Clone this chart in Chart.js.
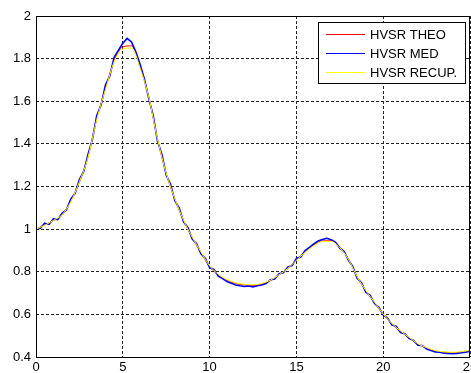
<!DOCTYPE html>
<html>
<head>
<meta charset="utf-8">
<script src="https://cdn.jsdelivr.net/npm/chart.js@4.4.1/dist/chart.umd.min.js"></script>
<style>
  html, body { margin: 0; padding: 0; background: #fff; }
  canvas { display: block; }
</style>
</head>
<body>
<canvas id="chart" width="471" height="373"></canvas>
<script>
// HVSR curves
const theoX = [0, 0.5, 1, 1.5, 2, 2.5, 3, 3.5, 4, 4.5, 5, 5.5, 6, 6.5, 7, 7.5, 8, 8.5, 9, 9.5,
  10, 10.5, 11, 11.5, 12, 12.5, 13, 13.5, 14, 14.5, 15, 15.5, 16, 16.5, 17, 17.5, 18, 18.5, 19, 19.5,
  20, 20.5, 21, 21.5, 22, 22.5, 23, 23.5, 24, 24.5, 25];
const theoY = [1.000, 1.020, 1.040, 1.065, 1.130, 1.220, 1.340, 1.520, 1.660, 1.790,
  1.855, 1.860, 1.760, 1.620, 1.420, 1.260, 1.140, 1.040, 0.960, 0.890,
  0.825, 0.785, 0.760, 0.745, 0.738, 0.736, 0.742, 0.758, 0.785, 0.815,
  0.855, 0.893, 0.925, 0.945, 0.945, 0.915, 0.860, 0.775, 0.710, 0.655,
  0.600, 0.555, 0.520, 0.490, 0.460, 0.442, 0.428, 0.422, 0.420, 0.423, 0.430];
const recupY = [1.000, 1.018, 1.041, 1.067, 1.128, 1.222, 1.338, 1.515, 1.655, 1.785,
  1.845, 1.850, 1.755, 1.618, 1.422, 1.262, 1.142, 1.042, 0.962, 0.893,
  0.828, 0.788, 0.763, 0.748, 0.741, 0.739, 0.745, 0.760, 0.786, 0.815,
  0.854, 0.891, 0.922, 0.942, 0.942, 0.913, 0.858, 0.776, 0.712, 0.657,
  0.602, 0.557, 0.522, 0.492, 0.462, 0.444, 0.430, 0.424, 0.422, 0.425, 0.431];
const medX = [0, 0.25, 0.5, 0.75, 1, 1.25, 1.5, 1.75, 2, 2.25, 2.5, 2.75, 3, 3.25, 3.5, 3.75,
  4, 4.25, 4.5, 4.75, 5, 5.25, 5.5, 5.75, 6, 6.25, 6.5, 6.75, 7, 7.25, 7.5, 7.75,
  8, 8.25, 8.5, 8.75, 9, 9.25, 9.5, 9.75, 10, 10.25, 10.5, 10.75, 11, 11.25, 11.5, 11.75,
  12, 12.25, 12.5, 12.75, 13, 13.25, 13.5, 13.75, 14, 14.25, 14.5, 14.75, 15, 15.25, 15.5, 15.75,
  16, 16.25, 16.5, 16.75, 17, 17.25, 17.5, 17.75, 18, 18.25, 18.5, 18.75, 19, 19.25, 19.5, 19.75,
  20, 20.25, 20.5, 20.75, 21, 21.25, 21.5, 21.75, 22, 22.25, 22.5, 22.75, 23, 23.25, 23.5, 23.75,
  24, 24.25, 24.5, 24.75, 25];
const medY = [1.000, 1.004, 1.028, 1.022, 1.048, 1.045, 1.074, 1.090, 1.141, 1.168, 1.232, 1.271,
  1.352, 1.421, 1.533, 1.582, 1.676, 1.718, 1.806, 1.840, 1.872, 1.895, 1.878, 1.832,
  1.772, 1.702, 1.611, 1.534, 1.412, 1.352, 1.254, 1.211, 1.133, 1.099, 1.034, 1.008,
  0.953, 0.932, 0.884, 0.864, 0.819, 0.811, 0.779, 0.768, 0.754, 0.746, 0.738, 0.734,
  0.731, 0.733, 0.729, 0.734, 0.738, 0.745, 0.763, 0.766, 0.791, 0.795, 0.822, 0.829,
  0.862, 0.869, 0.899, 0.914, 0.931, 0.944, 0.951, 0.957, 0.950, 0.939, 0.911, 0.895,
  0.854, 0.824, 0.769, 0.749, 0.704, 0.689, 0.651, 0.633, 0.597, 0.583, 0.551, 0.543,
  0.515, 0.509, 0.486, 0.478, 0.455, 0.454, 0.437, 0.431, 0.424, 0.422, 0.418, 0.417,
  0.416, 0.417, 0.420, 0.423, 0.427];

const xTicks = [0, 5, 10, 15, 20, 25];
const yTicks = [0.4, 0.6, 0.8, 1, 1.2, 1.4, 1.6, 1.8, 2];

const pts = (xs, ys) => xs.map((x, i) => ({ x: x, y: ys[i] }));

const FONT = { family: 'Arial, "Liberation Sans", sans-serif', size: 13 };

// solid box around the axes + MATLAB-like legend
const boxAndLegend = {
  id: 'boxAndLegend',
  afterDraw(chart) {
    const ctx = chart.ctx;
    const a = chart.chartArea;
    ctx.save();
    ctx.strokeStyle = '#000';
    ctx.lineWidth = 1;
    ctx.beginPath();
    ctx.moveTo(a.left, a.top + 0.5);
    ctx.lineTo(a.right, a.top + 0.5);
    ctx.moveTo(a.right - 0.5, a.top);
    ctx.lineTo(a.right - 0.5, a.bottom);
    ctx.moveTo(a.left + 0.5, a.top);
    ctx.lineTo(a.left + 0.5, a.bottom);
    ctx.moveTo(a.left, a.bottom + 0.5);
    ctx.lineTo(a.right, a.bottom + 0.5);
    ctx.stroke();

    const lx = 318, ly = 22, lw = 147, lh = 61;
    ctx.fillStyle = '#fff';
    ctx.fillRect(lx, ly, lw, lh);
    ctx.strokeRect(lx + 0.5, ly + 0.5, lw, lh);
    ctx.font = '13px ' + FONT.family;
    ctx.textBaseline = 'middle';
    chart.data.datasets.forEach((ds, i) => {
      const y = ly + 12 + i * 19;
      ctx.strokeStyle = ds.borderColor;
      ctx.beginPath();
      ctx.moveTo(326, y + 0.5);
      ctx.lineTo(365, y + 0.5);
      ctx.stroke();
      ctx.fillStyle = '#000';
      ctx.fillText(ds.label, 370, y + 1);
    });
    ctx.restore();
  }
};

new Chart(document.getElementById('chart'), {
  type: 'line',
  data: {
    datasets: [
      { label: 'HVSR THEO', data: pts(theoX, theoY), borderColor: '#ff0000', borderWidth: 1,
        cubicInterpolationMode: 'monotone', order: 2 },
      { label: 'HVSR MED', data: pts(medX, medY), borderColor: '#0000ff', borderWidth: 1.6,
        tension: 0, order: 1 },
      { label: 'HVSR RECUP.', data: pts(theoX, recupY), borderColor: '#ffff00', borderWidth: 1,
        cubicInterpolationMode: 'monotone', order: 0 }
    ]
  },
  options: {
    responsive: false,
    animation: false,
    layout: { padding: { top: 16, right: 1, left: 0, bottom: 0 } },
    elements: { point: { radius: 0 } },
    plugins: { legend: { display: false }, tooltip: { enabled: false } },
    scales: {
      x: {
        type: 'linear', min: 0, max: 25,
        afterBuildTicks: s => { s.ticks = xTicks.map(v => ({ value: v })); },
        afterFit: s => { s.height = 16; s.paddingLeft = 0; s.paddingRight = 0; },
        ticks: { color: '#000', font: FONT, padding: 3, maxRotation: 0, autoSkip: false,
          callback: v => String(v) },
        grid: { color: '#222', drawTicks: false },
        border: { display: false, dash: [3, 2] }
      },
      y: {
        type: 'linear', min: 0.4, max: 2,
        afterBuildTicks: s => { s.ticks = yTicks.map(v => ({ value: v })); },
        afterFit: s => { s.width = 36; s.paddingTop = 0; s.paddingBottom = 0; },
        ticks: { color: '#000', font: FONT, padding: 5, autoSkip: false,
          callback: v => String(Math.round(v * 10) / 10) },
        grid: { color: '#222', drawTicks: false },
        border: { display: false, dash: [3, 2] }
      }
    }
  },
  plugins: [boxAndLegend]
});
</script>
</body>
</html>
